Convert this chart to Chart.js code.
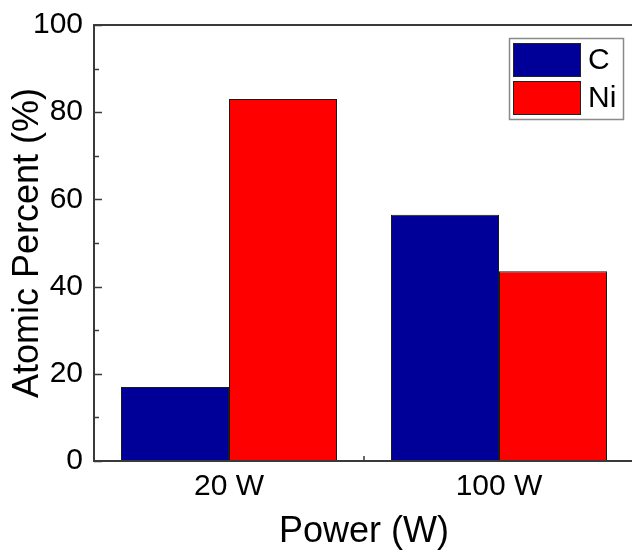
<!DOCTYPE html>
<html>
<head>
<meta charset="utf-8">
<script src="https://cdn.jsdelivr.net/npm/chart.js@4.4.1/dist/chart.umd.min.js"></script>
<style>
  html, body { margin: 0; padding: 0; background: #fff; overflow: hidden; }
  #wrap { width: 640px; height: 554px; }
</style>
</head>
<body>
<div id="wrap"><canvas id="chart"></canvas></div>
<script>
"use strict";
var categories = ["20 W", "100 W"];
var carbon = [17, 56.5];
var nickel = [83, 43.5];
var yTicks = [0, 20, 40, 60, 80, 100];
var yMinorTicks = [10, 30, 50, 70, 90];

var FONT = "'Liberation Sans', Arial, sans-serif";
var AXIS = "#3a3a3a";

// axis frame + inward ticks
var framePlugin = {
  id: "frame",
  beforeDatasetsDraw: function (chart) {
    var ctx = chart.ctx, a = chart.chartArea;
    var y = chart.scales.y, x = chart.scales.x;
    ctx.save();
    ctx.strokeStyle = AXIS;
    ctx.lineWidth = 1.5;
    ctx.beginPath();
    yTicks.forEach(function (v) {
      var py = Math.round(y.getPixelForValue(v)) + 0.5;
      ctx.moveTo(a.left, py);
      ctx.lineTo(a.left + 8, py);
    });
    yMinorTicks.forEach(function (v) {
      var py = Math.round(y.getPixelForValue(v)) + 0.5;
      ctx.moveTo(a.left, py);
      ctx.lineTo(a.left + 5, py);
    });
    for (var i = 0; i < categories.length - 1; i++) {
      var px = (x.getPixelForValue(i) + x.getPixelForValue(i + 1)) / 2;
      ctx.moveTo(px, a.bottom);
      ctx.lineTo(px, a.bottom - 5);
    }
    ctx.stroke();
    ctx.restore();
  },
  afterDatasetsDraw: function (chart) {
    var ctx = chart.ctx, a = chart.chartArea;
    ctx.save();
    ctx.strokeStyle = AXIS;
    ctx.lineWidth = 2;
    ctx.beginPath();
    ctx.moveTo(a.right + 2, a.top);
    ctx.lineTo(a.left, a.top);
    ctx.lineTo(a.left, a.bottom);
    ctx.lineTo(a.right + 2, a.bottom);
    ctx.stroke();

    // legend box
    var bx = 509, by = 38, bw = 114, bh = 81;
    ctx.lineWidth = 1.5;
    ctx.strokeStyle = "#8a8a8a";
    ctx.fillStyle = "#fff";
    ctx.fillRect(bx, by, bw, bh);
    ctx.strokeRect(bx + 0.5, by + 0.5, bw, bh);
    chart.data.datasets.forEach(function (ds, i) {
      var sy = by + 5 + i * 38;
      ctx.fillStyle = ds.backgroundColor;
      ctx.fillRect(513, sy, 68, 34);
      ctx.lineWidth = 1;
      ctx.strokeStyle = "#222";
      ctx.strokeRect(513.5, sy + 0.5, 67, 33);
      ctx.fillStyle = "#000";
      ctx.font = "30px " + FONT;
      ctx.textBaseline = "middle";
      ctx.textAlign = "left";
      ctx.fillText(ds.label, 588, sy + 18);
    });
    ctx.restore();
  }
};

new Chart(document.getElementById("chart"), {
  type: "bar",
  data: {
    labels: categories,
    datasets: [
      {
        label: "C",
        data: carbon,
        backgroundColor: "#000099",
        borderColor: "#1a1a1a",
        borderWidth: 1,
        categoryPercentage: 0.8,
        barPercentage: 1.0,
      },
      {
        label: "Ni",
        data: nickel,
        backgroundColor: "#ff0000",
        borderColor: "#1a1a1a",
        borderWidth: 1,
        categoryPercentage: 0.8,
        barPercentage: 1.0,
      },
    ],
  },
  options: {
    responsive: true,
    maintainAspectRatio: false,
    animation: false,
    layout: { padding: { top: 25, right: 6, left: 0, bottom: 0 } },
    plugins: {
      legend: { display: false },
      tooltip: { enabled: false },
    },
    scales: {
      x: {
        grid: { display: false },
        border: { display: false },
        ticks: {
          color: "#000",
          padding: 0,
          font: { family: FONT, size: 30 },
        },
        title: {
          display: true,
          text: "Power (W)",
          color: "#000",
          font: { family: FONT, size: 36 },
          padding: { top: 0, bottom: 0 },
        },
        afterFit: function (s) { s.height = 93; },
      },
      y: {
        min: 0,
        max: 100,
        grid: { display: false },
        border: { display: false },
        afterBuildTicks: function (s) {
          s.ticks = yTicks.map(function (v) { return { value: v }; });
        },
        ticks: {
          color: "#000",
          padding: 3,
          font: { family: FONT, size: 30 },
        },
        title: {
          display: true,
          text: "Atomic Percent (%)",
          color: "#000",
          font: { family: FONT, size: 36 },
          padding: { top: 6, bottom: 0 },
        },
        afterFit: function (s) { s.width = 94; },
      },
    },
  },
  plugins: [framePlugin],
});
</script>
</body>
</html>
